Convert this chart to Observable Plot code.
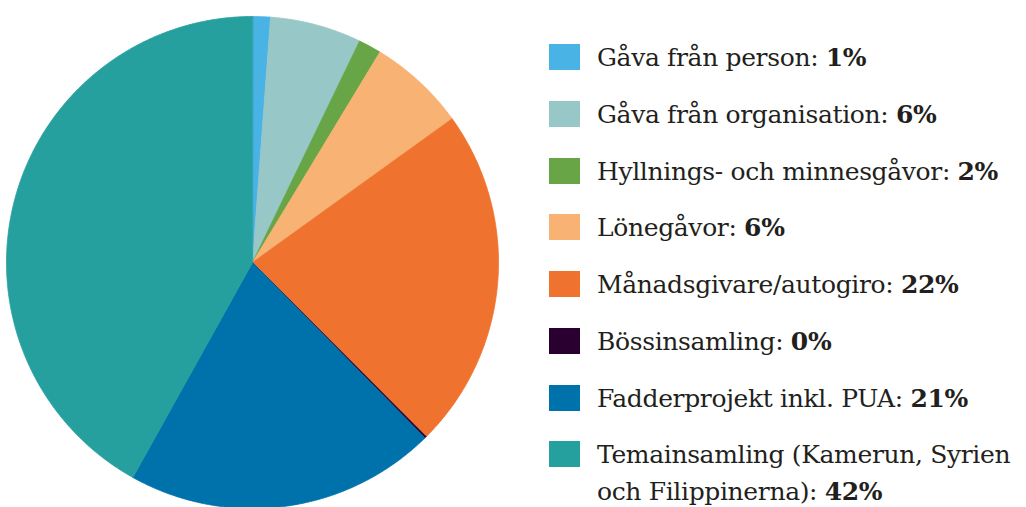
<!DOCTYPE html>
<html>
<head>
<meta charset="utf-8">
<script src="https://cdn.jsdelivr.net/npm/d3@7"></script>
<script src="https://cdn.jsdelivr.net/npm/@observablehq/plot@0.6"></script>
<style>
  html, body { margin: 0; padding: 0; background: #fff; }
  #wrap { position: relative; width: 1026px; height: 507px; overflow: hidden; }
  #pie { position: absolute; left: 0; top: 0; }
  .row { position: absolute; left: 549px; }
  .sw { position: absolute; left: 0; width: 31px; height: 26px; }
  .lbl { position: absolute; left: 48px; white-space: nowrap; font-family: "DejaVu Serif", serif;
         font-size: 25px; letter-spacing: -0.35px; line-height: 36px; color: #231f20; }
  .lbl b { font-weight: 700; }
</style>
</head>
<body>
<div id="wrap"><div id="pie"></div><div id="legend"></div></div>
<script>
const categories = [
  "Gåva från person",
  "Gåva från organisation",
  "Hyllnings- och minnesgåvor",
  "Lönegåvor",
  "Månadsgivare/autogiro",
  "Bössinsamling",
  "Fadderprojekt inkl. PUA",
  "Temainsamling (Kamerun, Syrien och Filippinerna)"
];
const values = [1.17, 6.0, 1.5, 6.4, 22.45, 0.12, 20.45, 41.91];
const pctLabels = ["1%", "6%", "2%", "6%", "22%", "0%", "21%", "42%"];
const legendLines = [
  ["Gåva från person:"],
  ["Gåva från organisation:"],
  ["Hyllnings- och minnesgåvor:"],
  ["Lönegåvor:"],
  ["Månadsgivare/autogiro:"],
  ["Bössinsamling:"],
  ["Fadderprojekt inkl. PUA:"],
  ["Temainsamling (Kamerun, Syrien", "och Filippinerna):"]
];
const colors = ["#4ab3e5", "#98c7c8", "#68a546", "#f8b273", "#f0722f", "#2a0030", "#0072ab", "#26a09e"];

// Build slice outlines (clockwise from 12 o'clock) from the values
const total = d3.sum(values);
const pts = [];
let acc = 0;
categories.forEach((c, i) => {
  const a0 = acc / total * 2 * Math.PI;
  acc += values[i];
  const a1 = acc / total * 2 * Math.PI;
  pts.push({c, x: 0, y: 0});
  const n = Math.max(2, Math.ceil((a1 - a0) / (Math.PI / 360)));
  for (let k = 0; k <= n; k++) {
    const a = a0 + (a1 - a0) * k / n;
    pts.push({c, x: Math.sin(a), y: Math.cos(a)});
  }
});

const W = 520, H = 507, R = 246, cx = 252, cy = 262;
const chart = Plot.plot({
  width: W, height: H,
  margin: 0,
  x: {domain: [-cx / R, (W - cx) / R], axis: null},
  y: {domain: [-(H - cy) / R, cy / R], axis: null},
  color: {domain: categories, range: colors},
  marks: [
    Plot.line(pts, {x: "x", y: "y", z: "c", fill: "c", stroke: "c", strokeWidth: 0.8, curve: "linear-closed"})
  ]
});
document.getElementById("pie").appendChild(chart);

// Legend
const legend = document.getElementById("legend");
const top0 = 44, step = 56.75;
categories.forEach((c, i) => {
  const row = document.createElement("div");
  row.className = "row";
  row.style.top = (top0 + i * step) + "px";
  const sw = document.createElement("div");
  sw.className = "sw";
  sw.style.top = "0px";
  sw.style.background = colors[i];
  row.appendChild(sw);
  const lines = legendLines[i];
  lines.forEach((t, j) => {
    const lbl = document.createElement("div");
    lbl.className = "lbl";
    lbl.style.top = (-4.0 + j * 36.5) + "px";
    if (j === lines.length - 1) {
      lbl.appendChild(document.createTextNode(t + " "));
      const b = document.createElement("b");
      b.textContent = pctLabels[i];
      lbl.appendChild(b);
    } else {
      lbl.textContent = t;
    }
    row.appendChild(lbl);
  });
  legend.appendChild(row);
});
</script>
</body>
</html>
